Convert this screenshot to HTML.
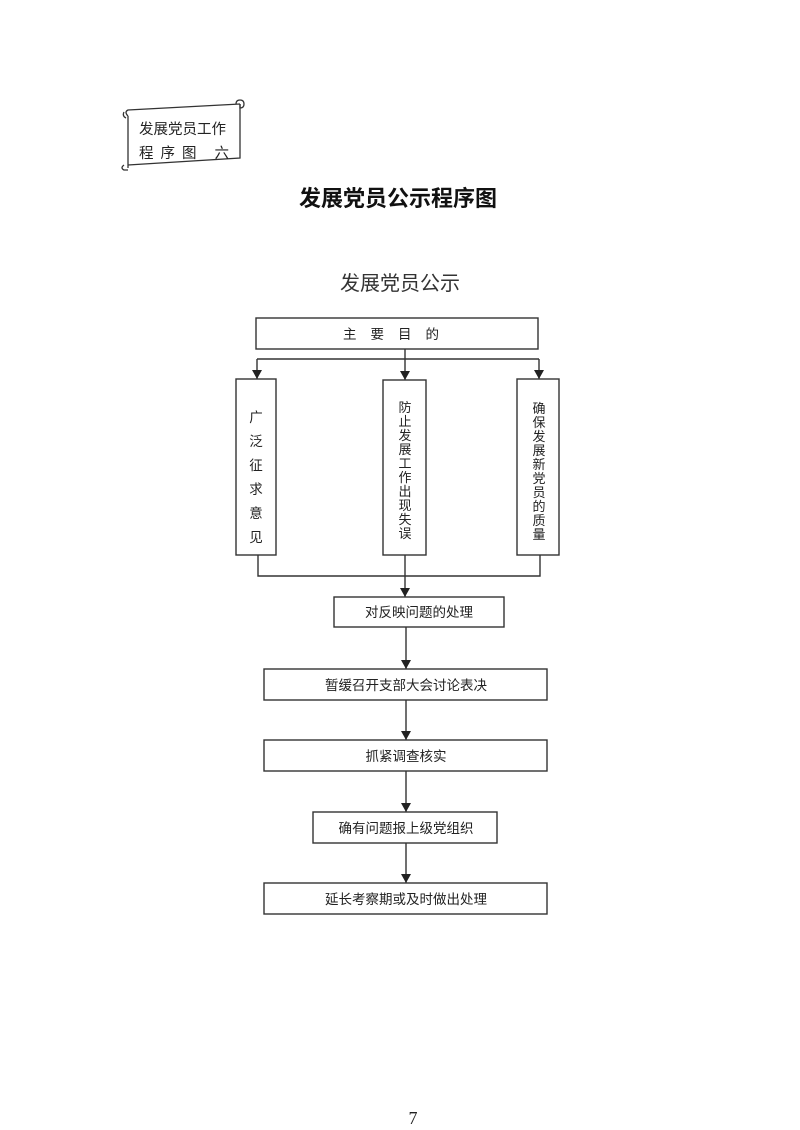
<!DOCTYPE html>
<html><head><meta charset="utf-8"><style>
html,body{margin:0;padding:0;background:#fff}
svg{display:block}
text{font-family:"Liberation Sans","Noto Sans CJK SC",sans-serif;fill:#222}
</style></head><body>
<svg width="800" height="1130" viewBox="0 0 800 1130" xmlns="http://www.w3.org/2000/svg">
<defs><marker id="a" markerWidth="10" markerHeight="10" refX="9" refY="5" orient="auto" markerUnits="userSpaceOnUse"><path d="M0,0 L9,5 L0,10 Z" fill="#222"/></marker></defs>
<g stroke="#333" stroke-width="1.3" fill="#fff">
<path d="M128,116 L128,168 M128,116 Q124,112 128,110 L240,104 M240,104 L240,158 L128,165"/>
<path d="M236,104 Q236,100 240,100 Q244,100 244,104 Q244,108 240,108 L240,104" fill="none"/>
<path d="M124,112 Q122,116 126,118 M124,165 Q120,168 124,170 L128,170" fill="none"/>
</g>
<text x="139" y="134" font-size="14.5">发展党员工作</text>
<text x="139" y="158" font-size="14.5" letter-spacing="7">程序图 六</text>
<text x="398" y="206" font-size="22" font-weight="bold" text-anchor="middle" style="fill:#111">发展党员公示程序图</text>
<text x="400" y="290" font-size="20" text-anchor="middle" style="fill:#333">发展党员公示</text>
<g stroke="#333" stroke-width="1.4" fill="none">
<rect x="256" y="318" width="282" height="31"/>
<line x1="257" y1="359" x2="539" y2="359"/>
<line x1="257" y1="359" x2="257" y2="379" marker-end="url(#a)"/>
<line x1="405" y1="349" x2="405" y2="380" marker-end="url(#a)"/>
<line x1="539" y1="359" x2="539" y2="379" marker-end="url(#a)"/>
<rect x="236" y="379" width="40" height="176"/>
<rect x="383" y="380" width="43" height="175"/>
<rect x="517" y="379" width="42" height="176"/>
<polyline points="258,555 258,576 540,576 540,555"/>
<line x1="405" y1="555" x2="405" y2="597" marker-end="url(#a)"/>
<rect x="334" y="597" width="170" height="30"/>
<line x1="406" y1="627" x2="406" y2="669" marker-end="url(#a)"/>
<rect x="264" y="669" width="283" height="31"/>
<line x1="406" y1="700" x2="406" y2="740" marker-end="url(#a)"/>
<rect x="264" y="740" width="283" height="31"/>
<line x1="406" y1="771" x2="406" y2="812" marker-end="url(#a)"/>
<rect x="313" y="812" width="184" height="31"/>
<line x1="406" y1="843" x2="406" y2="883" marker-end="url(#a)"/>
<rect x="264" y="883" width="283" height="31"/>
</g>
<g font-size="13.5" text-anchor="middle">
<text x="398" y="339" letter-spacing="14">主要目的</text>
<text x="256" y="422">广</text><text x="256" y="446">泛</text><text x="256" y="470">征</text><text x="256" y="494">求</text><text x="256" y="518">意</text><text x="256" y="542">见</text>
</g>
<g font-size="13" text-anchor="middle">
<text x="405" y="412">防</text><text x="405" y="426">止</text><text x="405" y="440">发</text><text x="405" y="454">展</text><text x="405" y="468">工</text><text x="405" y="482">作</text><text x="405" y="496">出</text><text x="405" y="510">现</text><text x="405" y="524">失</text><text x="405" y="538">误</text>
<text x="539" y="413">确</text><text x="539" y="427">保</text><text x="539" y="441">发</text><text x="539" y="455">展</text><text x="539" y="469">新</text><text x="539" y="483">党</text><text x="539" y="497">员</text><text x="539" y="511">的</text><text x="539" y="525">质</text><text x="539" y="539">量</text>
</g>
<g font-size="13.5" text-anchor="middle">
<text x="419" y="617">对反映问题的处理</text>
<text x="406" y="690">暂缓召开支部大会讨论表决</text>
<text x="406" y="761">抓紧调查核实</text>
<text x="406" y="833">确有问题报上级党组织</text>
<text x="406" y="904">延长考察期或及时做出处理</text>
</g>
<text x="413" y="1124" font-size="18" text-anchor="middle" style="font-family:'Liberation Serif',serif">7</text>
</svg>
</body></html>
